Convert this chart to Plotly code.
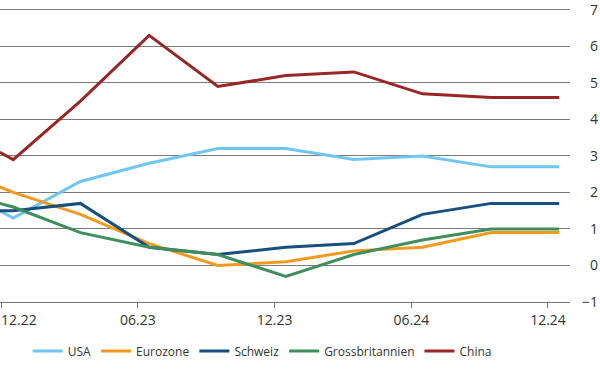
import plotly.graph_objects as go

dates = ["2022-11-28", "2022-12-16", "2023-03-16", "2023-06-16", "2023-09-16",
         "2023-12-16", "2024-03-16", "2024-06-16", "2024-09-16", "2024-12-16"]

usa = [1.5, 1.3, 2.3, 2.8, 3.2, 3.2, 2.9, 3.0, 2.7, 2.7]
eurozone = [2.15, 2.0, 1.4, 0.6, 0.0, 0.1, 0.4, 0.5, 0.9, 0.9]
schweiz = [1.5, 1.5, 1.7, 0.5, 0.3, 0.5, 0.6, 1.4, 1.7, 1.7]
gb = [1.7, 1.6, 0.9, 0.5, 0.3, -0.3, 0.3, 0.7, 1.0, 1.0]
china = [3.1, 2.9, 4.5, 6.3, 4.9, 5.2, 5.3, 4.7, 4.6, 4.6]

series_names = ["USA", "Eurozone", "Schweiz", "Grossbritannien", "China"]
series_values = [usa, eurozone, schweiz, gb, china]
colors = ["#6EC6F1", "#F39A1E", "#174F7E", "#3F8F5E", "#9A2525"]

tick_dates = ["2022-12-01", "2023-06-01", "2023-12-01", "2024-06-01", "2024-12-01"]
tick_labels = ["12.22", "06.23", "12.23", "06.24", "12.24"]

fig = go.Figure()
for name, vals, c in zip(series_names, series_values, colors):
    fig.add_trace(go.Scatter(x=dates, y=vals, mode="lines", name=name,
                             line=dict(color=c, width=3)))

# first tick label is shifted right so it stays inside the picture
fig.add_annotation(x=tick_dates[0], xref="x", y=-0.0612, yref="paper",
                   text=tick_labels[0], showarrow=False,
                   xanchor="left", yanchor="middle", xshift=-3,
                   font=dict(size=14, color="#333333"))

font = "Open Sans, Noto Sans, sans-serif"
fig.update_layout(
    width=600, height=380,
    margin=dict(l=0, r=0, t=8, b=78),
    paper_bgcolor="white", plot_bgcolor="white",
    font=dict(family=font, size=14, color="#333333"),
    showlegend=True,
    legend=dict(orientation="h", x=0.437, xanchor="center", y=-0.1667, yanchor="middle",
                font=dict(size=12, color="#333333"), itemwidth=30,
                bgcolor="rgba(0,0,0,0)"),
    xaxis=dict(type="date", domain=[0, 0.95],
               range=["2022-11-28 08:00", "2024-12-30 12:00"],
               tickvals=tick_dates, ticktext=[""] + tick_labels[1:],
               showgrid=False, zeroline=False,
               showline=True, linecolor="#777777", linewidth=1,
               ticks="outside", ticklen=5, tickcolor="#777777", tickwidth=1,
               tickfont=dict(size=14, color="#333333"), automargin=False),
    yaxis=dict(range=[-1, 7.05], dtick=1, tick0=0,
               anchor="free", position=1.0, side="left",
               showgrid=True, gridcolor="#7a7a7a", gridwidth=1,
               zeroline=False, showline=False, ticks="",
               ticklabelstandoff=2, ticklabeloverflow="allow",
               tickfont=dict(size=14, color="#333333"), automargin=False),
)

fig.write_html("out.html", config={"displayModeBar": False},
               post_script="document.body.style.margin='0';")
